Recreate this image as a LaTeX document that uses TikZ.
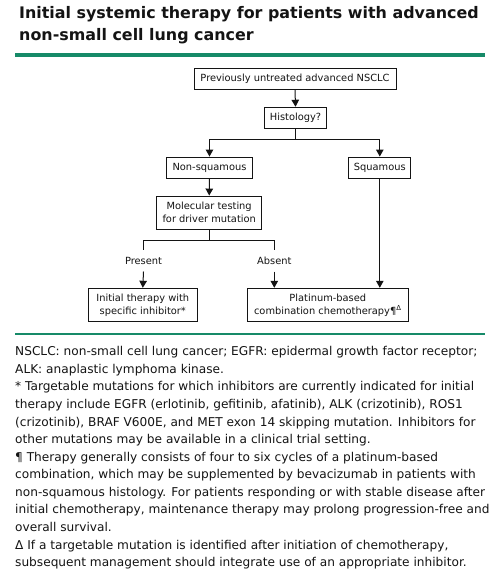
\documentclass[tikz,border=0pt]{standalone}
\usepackage{fontspec}
\setmainfont{DejaVu Sans}
\usetikzlibrary{arrows.meta}
\definecolor{bar}{RGB}{22,138,104}
\definecolor{ink}{RGB}{20,20,20}
\begin{document}
\begin{tikzpicture}[x=1pt,y=-1pt,
  box/.style={draw=ink,line width=1pt,inner sep=0pt,align=center,text=ink,font=\fontsize{9.85}{12.8}\selectfont},
  arr/.style={draw=ink,line width=1pt,-{Triangle[length=7pt,width=7.5pt]}},
  ln/.style={draw=ink,line width=1pt},
  lbl/.style={inner sep=0pt,minimum height=21pt,text=ink,font=\fontsize{9.85}{12}\selectfont},
  ttl/.style={anchor=base west,inner sep=0pt,text=ink,font=\fontsize{15.9}{18}\bfseries\selectfont},
  fn/.style={anchor=base west,inner sep=0pt,text=ink,font=\fontsize{12.15}{14}\selectfont}]
\useasboundingbox[fill=white] (0,0) rectangle (495,583);
% title
\node[ttl] (t1) at (19,19) {Initial systemic therapy for patients with advanced};
\node[ttl] (t2) at (19,41) {non-small cell lung cancer};
\fill[bar] (15,53) rectangle (485,57);
% boxes
\node[box,minimum width=202pt,minimum height=20.5pt] (a) at (295,79) {Previously untreated advanced NSCLC};
\node[box,minimum width=62.5pt,minimum height=21.5pt] (h) at (295.5,118) {Histology?};
\node[box,minimum width=85.6pt,minimum height=21.3pt] (ns) at (209.5,167.7) {Non-squamous};
\node[box,minimum width=62.3pt,minimum height=21.3pt] (sq) at (379.8,167.7) {Squamous};
\node[box,minimum width=105pt,minimum height=33.3pt] (m) at (209.2,212.7) {Molecular testing\\for driver mutation};
\node[box,minimum width=109pt,minimum height=33.4pt] (it) at (142.8,305) {Initial therapy with\\specific inhibitor*};
\node[box,minimum width=161pt,minimum height=33.4pt] (pl) at (327.8,305) {Platinum-based\\combination chemotherapy¶\textsuperscript{Δ}};
\node[lbl] (pr) at (143.5,260.8) {Present};
\node[lbl] (ab) at (274.3,260.8) {Absent};
% connectors
\draw[arr] (a.south) -- (h.north);
\draw[ln] (h.south) -- ++(0,10.3) coordinate (j1);
\draw[arr] (j1) -| (ns.north);
\draw[arr] (j1) -| (sq.north);
\draw[arr] (ns.south) -- (m.north);
\draw[ln] (m.south) -- ++(0,11) coordinate (j2);
\draw[ln] (j2) -| (pr.north);
\draw[ln] (j2) -| (ab.north);
\draw[arr] (pr.south) -- (it.north);
\draw[arr] (ab.south) -- (ab.south |- pl.north);
\draw[arr] (sq.south) -- (sq.south |- pl.north);
\fill[bar] (15,332.8) rectangle (485,335.3);
% footnotes
\foreach \i/\t in {0/{NSCLC: non-small cell lung cancer; EGFR: epidermal growth factor receptor;},
 1/{ALK: anaplastic lymphoma kinase.},
 2/{* Targetable mutations for which inhibitors are currently indicated for initial},
 3/{therapy include EGFR (erlotinib, gefitinib, afatinib), ALK (crizotinib), ROS1},
 4/{(crizotinib), BRAF V600E, and MET exon 14 skipping mutation. Inhibitors for},
 5/{other mutations may be available in a clinical trial setting.},
 6/{¶ Therapy generally consists of four to six cycles of a platinum-based},
 7/{combination, which may be supplemented by bevacizumab in patients with},
 8/{non-squamous histology. For patients responding or with stable disease after},
 9/{initial chemotherapy, maintenance therapy may prolong progression-free and},
 10/{overall survival.},
 11/{Δ If a targetable mutation is identified after initiation of chemotherapy,},
 12/{subsequent management should integrate use of an appropriate inhibitor.}}
 \node[fn] (f\i) at (15,355.7+17.58*\i) {\t};
\end{tikzpicture}
\end{document}
